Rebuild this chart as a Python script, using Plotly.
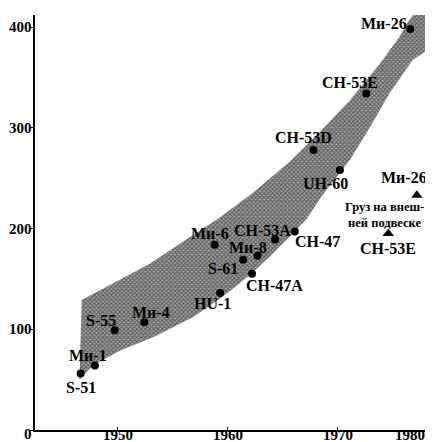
import plotly.graph_objects as go

# ---- data ----
band_upper_year = [1946.7, 1952.9, 1955.9, 1959.0, 1962.0, 1965.6, 1968.4, 1971.1, 1973.8, 1975.6, 1976.5, 1977.0, 1978.4]
band_upper_val  = [129, 165, 187, 209, 233, 266, 296, 327, 363, 390, 407, 414, 414]
band_lower_year = [1946.5, 1947.7, 1950.2, 1953.2, 1956.8, 1959.5, 1962.0, 1963.8, 1965.9, 1967.2, 1968.6, 1971.1, 1972.9, 1974.7, 1976.8, 1978.4]
band_lower_val  = [50, 64, 79, 92, 112, 132, 154, 172, 195, 210, 233, 268, 300, 334, 367, 379]

heli_names = ["S-51", "Ми-1", "S-55", "Ми-4", "HU-1", "Ми-6", "S-61", "CH-47A", "Ми-8", "CH-53A", "CH-47", "CH-53D", "UH-60", "CH-53E", "Ми-26"]
heli_year  = [1946.6, 1947.9, 1949.7, 1952.4, 1959.3, 1958.8, 1961.4, 1962.2, 1962.7, 1964.3, 1966.1, 1967.8, 1970.2, 1972.6, 1976.6]
heli_val   = [56, 64, 99, 107, 136, 184, 169, 155, 173, 189, 197, 278, 258, 334, 398]

sling_names = ["Ми-26", "CH-53E"]
sling_year  = [1977.2, 1974.6]
sling_val   = [233, 195]
sling_note  = "Груз на внеш-<br>ней подвеске"
sling_note_year = 1974.6
sling_note_val = 213

x_tick_pos  = [1950, 1960, 1970, 1976.6]
x_tick_text = ["1950", "1960", "1970", "1980"]
y_tick_vals = [0, 100, 200, 300, 400]
y_tick_text = ["0", "100", "200", "300", "400"]

# label offsets in pixels (dx, dy up) for each helicopter label
heli_label_offsets = [(0, -14), (-7, 10), (-14, 10), (7, 10), (-8, -10), (-5, 11), (-20, -9), (22, -12),
                      (-10, 8), (-13, 9), (23, -10), (-10, 12), (-14, -13), (-16, 11), (-26, 6)]
sling_label_offsets = [(-13, 18), (0, -15)]

FONT = "Liberation Serif"

fig = go.Figure()

# shaded band
band_x = band_upper_year + band_lower_year[::-1]
band_y = band_upper_val + band_lower_val[::-1]
fig.add_trace(go.Scatter(
    x=band_x, y=band_y, mode="lines", fill="toself",
    line=dict(width=0, color="rgba(0,0,0,0)"),
    fillcolor="rgb(95,95,95)",
    fillpattern=dict(shape="x", fgcolor="rgb(10,10,10)", bgcolor="rgb(165,165,165)", size=3, solidity=0.55),
    hoverinfo="skip", showlegend=False,
))

fig.add_trace(go.Scatter(
    x=heli_year, y=heli_val, mode="markers",
    marker=dict(symbol="circle", size=8, color="black"),
    text=heli_names, showlegend=False,
))
fig.add_trace(go.Scatter(
    x=sling_year, y=sling_val, mode="markers",
    marker=dict(symbol="triangle-up", size=10, color="black"),
    text=sling_names, showlegend=False,
))

label_font = dict(family=FONT, size=16, color="black", weight="bold")
tick_font = dict(family=FONT, size=15, color="black", weight="bold")

annotations = []
for name, xv, yv, (dx, dy) in zip(heli_names, heli_year, heli_val, heli_label_offsets):
    annotations.append(dict(x=xv, y=yv, text=name, showarrow=False, xshift=dx, yshift=dy, font=label_font))
for name, xv, yv, (dx, dy) in zip(sling_names, sling_year, sling_val, sling_label_offsets):
    annotations.append(dict(x=xv, y=yv, text=name, showarrow=False, xshift=dx, yshift=dy, font=label_font))
annotations.append(dict(x=sling_note_year, y=sling_note_val, text=sling_note, showarrow=False, xshift=-4,
                        font=dict(family=FONT, size=12.5, color="black", weight="bold"), align="center"))
# x tick labels placed close under the axis line
for pos, txt in zip(x_tick_pos, x_tick_text):
    annotations.append(dict(x=pos, y=0, text=txt, showarrow=False, yanchor="middle", yshift=-5,
                            font=tick_font))
# y tick labels placed close to the axis line
for val, txt in zip(y_tick_vals, y_tick_text):
    annotations.append(dict(x=0, xref="paper", y=val, text=txt, showarrow=False, xanchor="right",
                            xshift=-1, yshift=(-4 if val == 0 else 0), font=tick_font))

# the page body has an 8px margin: the figure is sized/offset to compensate
fig.update_layout(
    width=425, height=434,
    margin=dict(l=27, r=3, t=7, b=12),
    paper_bgcolor="white", plot_bgcolor="white",
    annotations=annotations,
    font=dict(family=FONT, size=15, color="black"),
)
fig.update_xaxes(range=[1942.45, 1978.4], tickvals=x_tick_pos[:3], automargin=False,
                 showticklabels=False,
                 showgrid=False, zeroline=False, showline=True, linecolor="black", linewidth=2,
                 ticks="inside", ticklen=3, tickcolor="black")
fig.update_yaxes(range=[0, 412], tickvals=y_tick_vals, automargin=False,
                 showticklabels=False,
                 showgrid=False, zeroline=False, showline=True, linecolor="black", linewidth=2,
                 ticks="outside", ticklen=3, tickcolor="black")

fig.write_html("out.html")
